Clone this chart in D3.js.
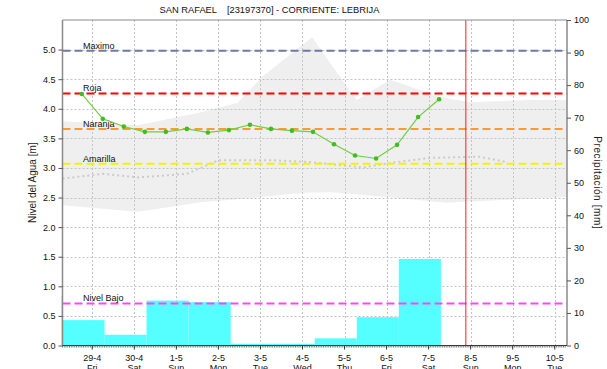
<!DOCTYPE html>
<html><head><meta charset="utf-8">
<script src="https://cdn.jsdelivr.net/npm/d3@7"></script>
<style>
html,body{margin:0;padding:0;background:#fff;overflow:hidden}
svg{display:block;font-family:"Liberation Sans",Arial,sans-serif}
</style></head>
<body><svg id="c" width="607" height="369"></svg>
<script>
// ---- data ----
const dayTicks = ["2022-04-29","2022-04-30","2022-05-01","2022-05-02","2022-05-03","2022-05-04","2022-05-05","2022-05-06","2022-05-07","2022-05-08","2022-05-09","2022-05-10"];
const dayLabels = ["29-4","30-4","1-5","2-5","3-5","4-5","5-5","6-5","7-5","8-5","9-5","10-5"];
const weekdayLabels = ["Fri","Sat","Sun","Mon","Tue","Wed","Thu","Fri","Sat","Sun","Mon","Tue"];
const levelTicks = [0,0.5,1.0,1.5,2.0,2.5,3.0,3.5,4.0,4.5,5.0];
const precipTicks = [0,10,20,30,40,50,60,70,80,90,100];

const levelTimes = ["2022-04-28T18:00","2022-04-29T06:00","2022-04-29T18:00","2022-04-30T06:00","2022-04-30T18:00","2022-05-01T06:00","2022-05-01T18:00","2022-05-02T06:00","2022-05-02T18:00","2022-05-03T06:00","2022-05-03T18:00","2022-05-04T06:00","2022-05-04T18:00","2022-05-05T06:00","2022-05-05T18:00","2022-05-06T06:00","2022-05-06T18:00","2022-05-07T06:00"];
const levelValues = [4.25,3.83,3.70,3.61,3.61,3.66,3.60,3.64,3.73,3.66,3.63,3.61,3.40,3.21,3.16,3.39,3.86,4.16];

const precipStart = ["2022-04-27T07:00","2022-04-28T07:00","2022-04-29T07:00","2022-04-30T07:00","2022-05-01T07:00","2022-05-02T07:00","2022-05-03T07:00","2022-05-04T07:00","2022-05-05T07:00","2022-05-06T07:00"];
const precipValues = [15.2,7.8,3.3,13.8,13.3,0.5,0.5,2.2,8.7,26.6];

const bandTopTimes = ["2022-04-28T07:00","2022-04-30T02:00","2022-05-01T14:00","2022-05-02T11:00","2022-05-03T01:00","2022-05-04T05:30","2022-05-04T18:30","2022-05-05T07:00","2022-05-06T02:00","2022-05-07T06:30","2022-05-07T23:30","2022-05-09T09:30","2022-05-10T07:00"];
const bandTopValues = [3.79,3.72,3.94,4.10,4.54,5.21,4.66,4.15,4.49,4.20,4.11,4.15,4.15];
const bandBottomTimes = ["2022-04-28T07:00","2022-04-30T02:00","2022-05-01T14:00","2022-05-02T18:00","2022-05-04T00:00","2022-05-04T17:00","2022-05-06T00:00","2022-05-07T10:00","2022-05-08T18:00","2022-05-10T07:00"];
const bandBottomValues = [2.37,2.26,2.42,2.49,2.58,2.59,2.51,2.41,2.46,2.51];
const meanTimes = ["2022-04-28T07:00","2022-04-29T06:00","2022-04-30T02:00","2022-05-01T06:00","2022-05-02T00:00","2022-05-03T07:00","2022-05-04T04:00","2022-05-05T10:30","2022-05-06T06:00","2022-05-07T01:00","2022-05-08T05:00","2022-05-08T20:30"];
const meanValues = [2.82,2.90,2.84,2.90,3.13,3.13,3.10,3.01,3.10,3.17,3.19,3.10];

const thresholdNames = ["Maximo","Roja","Naranja","Amarilla","Nivel Bajo"];
const thresholdValues = [4.98,4.26,3.66,3.07,0.71];
const thresholdColors = ["#6b7aa6","#ff0000","#ff9a2e","#f4f400","#ff44ff"];

const nowTime = "2022-05-07T21:15";
const domainStart = "2022-04-28T07:00", domainEnd = "2022-05-10T07:00";
const title = "SAN RAFAEL    [23197370] - CORRIENTE: LEBRIJA";

// ---- chart ----
(function(){
const P = d3.timeParse("%Y-%m-%dT%H:%M"), PD = d3.timeParse("%Y-%m-%d");
const L = 62.5, R = 567, T = 20, B = 345.5;
const svg = d3.select("#c");
const x = d3.scaleTime().domain([P(domainStart), P(domainEnd)]).range([L, R]);
const yL = d3.scaleLinear().domain([0, 5.5]).range([B, T]);
const yR = d3.scaleLinear().domain([0, 100]).range([B, T]);

svg.append("defs").append("clipPath").attr("id","clip").append("rect")
  .attr("x",L-1).attr("y",T).attr("width",R-L+1).attr("height",B-T);
const g = svg.append("g").attr("clip-path","url(#clip)");

// band
const upper = bandTopTimes.map((t,i)=>[x(P(t)), yL(bandTopValues[i])]);
const lower = bandBottomTimes.map((t,i)=>[x(P(t)), yL(bandBottomValues[i])]).reverse();
g.append("path").attr("d", d3.line()(upper.concat(lower)) + "Z").attr("fill","#efefef");

// mean dotted
g.append("path").datum(meanTimes.map((t,i)=>[P(t), meanValues[i]]))
  .attr("d", d3.line().x(d=>x(d[0])).y(d=>yL(d[1])))
  .attr("fill","none").attr("stroke","#cbcbcb").attr("stroke-width",2).attr("stroke-dasharray","2,3");

// grid
const grid = svg.append("g");
dayTicks.forEach(d=>{
  const xx = Math.round(x(PD(d)))+0.5;
  grid.append("line").attr("x1",xx).attr("x2",xx).attr("y1",T).attr("y2",B)
    .attr("stroke","#c4c4c4").attr("stroke-dasharray","2,2");
});
levelTicks.forEach(v=>{
  if (v===0) return;
  const yy = Math.round(yL(v))+0.5;
  grid.append("line").attr("x1",L).attr("x2",R).attr("y1",yy).attr("y2",yy)
    .attr("stroke","#c4c4c4").attr("stroke-dasharray","2,2");
});

// precipitation bars (over the grid)
const g2 = svg.append("g").attr("clip-path","url(#clip)");
const day = 24*3600*1000;
g2.selectAll("rect.bar").data(precipValues).enter().append("rect")
  .attr("x", (d,i)=>x(P(precipStart[i])))
  .attr("width", (d,i)=>x(new Date(+P(precipStart[i])+day)) - x(P(precipStart[i])))
  .attr("y", d=>yR(d)).attr("height", d=>B-yR(d))
  .attr("fill","#55ffff");

// thresholds
thresholdValues.forEach((v,i)=>{
  svg.append("line").attr("x1",L).attr("x2",R).attr("y1",yL(v)).attr("y2",yL(v))
    .attr("stroke",thresholdColors[i]).attr("stroke-width",2).attr("stroke-dasharray","8,4");
  svg.append("text").attr("x",83).attr("y",yL(v)-2).attr("font-size",9).attr("fill","#111")
    .text(thresholdNames[i]);
});

// water level
const lv = levelTimes.map((t,i)=>[P(t), levelValues[i]]);
svg.append("path").datum(lv).attr("d", d3.line().x(d=>x(d[0])).y(d=>yL(d[1])))
  .attr("fill","none").attr("stroke","#6fcf3f").attr("stroke-width",1.2);
svg.selectAll("circle.pt").data(lv).enter().append("circle")
  .attr("cx",d=>x(d[0])).attr("cy",d=>yL(d[1])).attr("r",2.3).attr("fill","#3fbf1f");

// now line
svg.append("line").attr("x1",x(P(nowTime))).attr("x2",x(P(nowTime))).attr("y1",T).attr("y2",B)
  .attr("stroke","#ee2222").attr("stroke-width",1);

// frame
svg.append("line").attr("x1",L).attr("x2",R).attr("y1",T).attr("y2",T).attr("stroke","#8a8a8a");

// axes
const axL = svg.append("g").attr("transform",`translate(${L},0)`)
  .call(d3.axisLeft(yL).tickValues(levelTicks).tickFormat(d3.format(".1f")).tickSize(4).tickPadding(3));
const axR = svg.append("g").attr("transform",`translate(${R},0)`)
  .call(d3.axisRight(yR).tickValues(precipTicks).tickSize(4).tickPadding(3));
[axL,axR].forEach(a=>{
  a.select(".domain").attr("stroke","#8a8a8a").attr("stroke-width",1.5);
  a.selectAll(".tick line").attr("stroke","#555");
  a.selectAll("text").attr("font-size",9).attr("font-family","Liberation Sans, Arial, sans-serif").attr("fill","#111");
});
axL.select(".domain").attr("d",`M0,${T}V${B}`);
axR.select(".domain").attr("d",`M0,${T}V${B}`);

// bottom axis with hourly minor ticks
const axB = svg.append("g");
axB.append("line").attr("x1",L).attr("x2",R).attr("y1",B).attr("y2",B).attr("stroke","#333");
d3.timeHour.every(1).range(P(domainStart), P(domainEnd)).forEach(h=>{
  const xx = x(h);
  axB.append("line").attr("x1",xx).attr("x2",xx).attr("y1",B).attr("y2",B+2)
    .attr("stroke","#555").attr("stroke-width",0.8);
});
dayTicks.forEach((d,i)=>{
  const xx = x(PD(d));
  axB.append("line").attr("x1",xx).attr("x2",xx).attr("y1",B).attr("y2",B+4).attr("stroke","#333");
  axB.append("text").attr("x",xx).attr("y",360.5).attr("text-anchor","middle").attr("font-size",9).attr("fill","#111").text(dayLabels[i]);
  axB.append("text").attr("x",xx).attr("y",371).attr("text-anchor","middle").attr("font-size",9).attr("fill","#111").text(weekdayLabels[i]);
});

// titles
svg.append("text").attr("x",269.5).attr("y",13).attr("text-anchor","middle").attr("font-size",9.3)
  .attr("fill","#111").attr("xml:space","preserve").style("white-space","pre").text(title);
svg.append("text").attr("transform",`translate(36,${(T+B)/2}) rotate(-90)`).attr("text-anchor","middle")
  .attr("font-size",10).attr("fill","#222").text("Nivel del Agua [m]");
svg.append("text").attr("transform",`translate(594,${(T+B)/2}) rotate(90)`).attr("text-anchor","middle")
  .attr("font-size",10).attr("fill","#222").attr("letter-spacing",0.6).text("Precipitación [mm]");
})();
</script></body></html>
